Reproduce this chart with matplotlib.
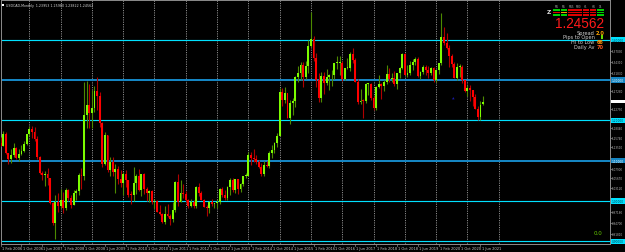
import matplotlib
matplotlib.use("Agg")
import matplotlib.pyplot as plt
from matplotlib.patches import Rectangle
from matplotlib.transforms import blended_transform_factory

W, H = 625, 253

# ---------------- data: USDCAD monthly, Feb 2006 .. Jul 2021 ----------------
opens = [
    # 2006 Feb-Dec
    1.1430, 1.1375, 1.1670, 1.1180, 1.1030, 1.1150, 1.1310, 1.1060, 1.1160, 1.1230, 1.1420,
    # 2007
    1.1650, 1.1780, 1.1700, 1.1540, 1.1080, 1.0700, 1.0650, 1.0670, 1.0560, 0.9950, 0.9450, 0.9990,
    # 2008
    0.9870, 1.0030, 0.9820, 1.0270, 1.0080, 0.9910, 1.0200, 1.0240, 1.0640, 1.0630, 1.2120, 1.2380,
    # 2009
    1.2170, 1.2300, 1.2720, 1.2600, 1.1930, 1.0920, 1.1630, 1.0770, 1.0960, 1.0710, 1.0800, 1.0550,
    # 2010
    1.0460, 1.0680, 1.0520, 1.0160, 1.0150, 1.0440, 1.0630, 1.0280, 1.0660, 1.0290, 1.0200, 1.0250,
    # 2011
    0.9990, 1.0010, 0.9720, 0.9690, 0.9480, 0.9690, 0.9640, 0.9550, 0.9790, 1.0480, 0.9970, 1.0200,
    # 2012
    1.0180, 1.0020, 0.9880, 0.9980, 0.9880, 1.0340, 1.0190, 1.0030, 0.9860, 0.9830, 0.9990, 0.9930,
    # 2013
    0.9950, 0.9980, 1.0300, 1.0160, 1.0080, 1.0360, 1.0520, 1.0270, 1.0540, 1.0300, 1.0430, 1.0620,
    # 2014
    1.0620, 1.1140, 1.1070, 1.1050, 1.0960, 1.0840, 1.0670, 1.0900, 1.0870, 1.1200, 1.1270, 1.1430,
    # 2015
    1.1620, 1.2700, 1.2500, 1.2680, 1.2060, 1.2440, 1.2490, 1.3080, 1.3170, 1.3380, 1.3080, 1.3350,
    # 2016
    1.3840, 1.4010, 1.3530, 1.2990, 1.2550, 1.3090, 1.2920, 1.3070, 1.3110, 1.3120, 1.3410, 1.3430,
    # 2017
    1.3430, 1.3010, 1.3290, 1.3300, 1.3650, 1.3500, 1.2960, 1.2460, 1.2490, 1.2480, 1.2890, 1.2900,
    # 2018
    1.2560, 1.2310, 1.2830, 1.2890, 1.2840, 1.2960, 1.3150, 1.3010, 1.3050, 1.2910, 1.3160, 1.3290,
    # 2019
    1.3640, 1.3130, 1.3160, 1.3360, 1.3450, 1.3510, 1.3100, 1.3190, 1.3310, 1.3240, 1.3170, 1.3290,
    # 2020
    1.2990, 1.3240, 1.3420, 1.4070, 1.3910, 1.3780, 1.3580, 1.3400, 1.3050, 1.3310, 1.3320, 1.2990,
    # 2021 Jan-Jul
    1.2730, 1.2790, 1.2740, 1.2570, 1.2290, 1.2070, 1.23953,
]
highs = [
    1.1580, 1.1730, 1.1720, 1.1200, 1.1300, 1.1450, 1.1330, 1.1290, 1.1400, 1.1480, 1.1660,
    1.1852, 1.1850, 1.1830, 1.1600, 1.1120, 1.0750, 1.0740, 1.0820, 1.0580, 0.9990, 1.0160, 1.0200,
    1.0290, 1.0220, 1.0330, 1.0290, 1.0150, 1.0270, 1.0300, 1.0690, 1.0830, 1.2940, 1.2985, 1.2900,
    1.2750, 1.2860, 1.3065, 1.2700, 1.1950, 1.1700, 1.1630, 1.1100, 1.1100, 1.0920, 1.0860, 1.0760,
    1.0730, 1.0780, 1.0530, 1.0250, 1.0850, 1.0670, 1.0790, 1.0680, 1.0690, 1.0340, 1.0270, 1.0280,
    1.0050, 1.0030, 0.9900, 0.9700, 0.9890, 0.9920, 0.9690, 0.9980, 1.0500, 1.0660, 1.0520, 1.0420,
    1.0260, 1.0050, 1.0040, 1.0030, 1.0370, 1.0450, 1.0250, 1.0040, 0.9900, 1.0000, 1.0050, 0.9960,
    1.0060, 1.0320, 1.0340, 1.0280, 1.0380, 1.0560, 1.0560, 1.0550, 1.0550, 1.0450, 1.0630, 1.0700,
    1.1220, 1.1220, 1.1280, 1.1130, 1.1010, 1.0940, 1.0990, 1.1000, 1.1250, 1.1390, 1.1470, 1.1680,
    1.2800, 1.2800, 1.2830, 1.2680, 1.2500, 1.2560, 1.3100, 1.3350, 1.3450, 1.3450, 1.3460, 1.3990,
    1.4690, 1.4090, 1.3660, 1.3160, 1.3190, 1.3190, 1.3260, 1.3140, 1.3250, 1.3410, 1.3590, 1.3600,
    1.3460, 1.3290, 1.3540, 1.3680, 1.3790, 1.3540, 1.3010, 1.2780, 1.2530, 1.2920, 1.2920, 1.2920,
    1.2590, 1.2850, 1.3130, 1.2920, 1.3000, 1.3380, 1.3290, 1.3160, 1.3210, 1.3170, 1.3320, 1.3660,
    1.3660, 1.3380, 1.3470, 1.3520, 1.3570, 1.3560, 1.3210, 1.3380, 1.3380, 1.3350, 1.3330, 1.3320,
    1.3250, 1.3430, 1.4667, 1.4300, 1.4160, 1.3870, 1.3650, 1.3450, 1.3420, 1.3390, 1.3370, 1.3000,
    1.2880, 1.2880, 1.2740, 1.2650, 1.2350, 1.2490, 1.25980,
]
lows = [
    1.1365, 1.1370, 1.1160, 1.0923, 1.0950, 1.1100, 1.1040, 1.0990, 1.1140, 1.1210, 1.1400,
    1.1620, 1.1560, 1.1500, 1.1050, 1.0660, 1.0530, 1.0380, 1.0410, 0.9940, 0.9400, 0.9058, 0.9740,
    0.9830, 0.9700, 0.9770, 1.0000, 0.9840, 0.9900, 1.0030, 1.0150, 1.0310, 1.0520, 1.1800, 1.1800,
    1.1820, 1.2200, 1.2250, 1.1840, 1.0850, 1.0890, 1.0720, 1.0630, 1.0630, 1.0206, 1.0430, 1.0360,
    1.0160, 1.0350, 1.0100, 0.9930, 1.0000, 1.0180, 1.0250, 1.0120, 1.0170, 1.0000, 0.9980, 0.9930,
    0.9840, 0.9720, 0.9650, 0.9450, 0.9440, 0.9600, 0.9410, 0.9480, 0.9720, 0.9880, 0.9970, 1.0080,
    0.9980, 0.9840, 0.9850, 0.9840, 0.9840, 1.0120, 1.0020, 0.9860, 0.9630, 0.9710, 0.9890, 0.9830,
    0.9840, 0.9930, 1.0100, 1.0030, 1.0020, 1.0140, 1.0230, 1.0200, 1.0180, 1.0220, 1.0380, 1.0560,
    1.0610, 1.0900, 1.0970, 1.0910, 1.0810, 1.0620, 1.0620, 1.0840, 1.0820, 1.1060, 1.1200, 1.1350,
    1.1620, 1.2350, 1.2420, 1.2050, 1.1920, 1.2130, 1.2330, 1.2950, 1.3000, 1.2830, 1.3020, 1.3170,
    1.3820, 1.3480, 1.2830, 1.2460, 1.2460, 1.2650, 1.2870, 1.2760, 1.2840, 1.3030, 1.3270, 1.3120,
    1.2970, 1.3000, 1.3260, 1.3230, 1.3410, 1.2950, 1.2410, 1.2410, 1.2060, 1.2430, 1.2630, 1.2500,
    1.2250, 1.2250, 1.2810, 1.2530, 1.2730, 1.2900, 1.2960, 1.2960, 1.2860, 1.2780, 1.3050, 1.3260,
    1.3120, 1.3070, 1.3130, 1.3250, 1.3380, 1.3070, 1.3020, 1.3140, 1.3130, 1.3040, 1.3110, 1.2960,
    1.2950, 1.3150, 1.3380, 1.3860, 1.3760, 1.3310, 1.3330, 1.3040, 1.3000, 1.3080, 1.2930, 1.2710,
    1.2590, 1.2470, 1.2360, 1.2270, 1.2010, 1.2010, 1.23822,
]
closes = [
    1.1375, 1.1670, 1.1180, 1.1030, 1.1150, 1.1310, 1.1060, 1.1160, 1.1230, 1.1420, 1.1650,
    1.1780, 1.1700, 1.1540, 1.1080, 1.0700, 1.0650, 1.0670, 1.0560, 0.9950, 0.9450, 0.9990, 0.9870,
    1.0030, 0.9820, 1.0270, 1.0080, 0.9910, 1.0200, 1.0240, 1.0640, 1.0630, 1.2120, 1.2380, 1.2170,
    1.2300, 1.2720, 1.2600, 1.1930, 1.0920, 1.1630, 1.0770, 1.0960, 1.0710, 1.0800, 1.0550, 1.0460,
    1.0680, 1.0520, 1.0160, 1.0150, 1.0440, 1.0630, 1.0280, 1.0660, 1.0290, 1.0200, 1.0250, 0.9990,
    1.0010, 0.9720, 0.9690, 0.9480, 0.9690, 0.9640, 0.9550, 0.9790, 1.0480, 0.9970, 1.0200, 1.0180,
    1.0020, 0.9880, 0.9980, 0.9880, 1.0340, 1.0190, 1.0030, 0.9860, 0.9830, 0.9990, 0.9930, 0.9950,
    0.9980, 1.0300, 1.0160, 1.0080, 1.0360, 1.0520, 1.0270, 1.0540, 1.0300, 1.0430, 1.0620, 1.0620,
    1.1140, 1.1070, 1.1050, 1.0960, 1.0840, 1.0670, 1.0900, 1.0870, 1.1200, 1.1270, 1.1430, 1.1620,
    1.2700, 1.2500, 1.2680, 1.2060, 1.2440, 1.2490, 1.3080, 1.3170, 1.3380, 1.3080, 1.3350, 1.3840,
    1.4010, 1.3530, 1.2990, 1.2550, 1.3090, 1.2920, 1.3070, 1.3110, 1.3120, 1.3410, 1.3430, 1.3430,
    1.3010, 1.3290, 1.3300, 1.3650, 1.3500, 1.2960, 1.2460, 1.2490, 1.2480, 1.2890, 1.2900, 1.2560,
    1.2310, 1.2830, 1.2890, 1.2840, 1.2960, 1.3150, 1.3010, 1.3050, 1.2910, 1.3160, 1.3290, 1.3640,
    1.3130, 1.3160, 1.3360, 1.3450, 1.3510, 1.3100, 1.3190, 1.3310, 1.3240, 1.3170, 1.3290, 1.2990,
    1.3240, 1.3420, 1.4070, 1.3910, 1.3780, 1.3580, 1.3400, 1.3050, 1.3310, 1.3320, 1.2990, 1.2730,
    1.2790, 1.2740, 1.2570, 1.2290, 1.2070, 1.2390, 1.24562,
]

date_labels = ["1 Feb 2006", "1 Oct 2006", "1 Jun 2007", "1 Feb 2008", "1 Oct 2008",
               "1 Jun 2009", "1 Feb 2010", "1 Oct 2010", "1 Jun 2011", "1 Feb 2012",
               "1 Oct 2012", "1 Jun 2013", "1 Feb 2014", "1 Oct 2014", "1 Jun 2015",
               "1 Feb 2016", "1 Oct 2016", "1 Jun 2017", "1 Feb 2018", "1 Oct 2018",
               "1 Jun 2019", "1 Feb 2020", "1 Oct 2020", "1 Jun 2021"]
date_label_bars = [0, 8, 16, 24, 32, 40, 48, 56, 64, 72, 80, 88, 96, 104, 112,
                   120, 128, 136, 144, 152, 160, 168, 176, 184]
january_bars = [11, 23, 35, 47, 59, 71, 83, 95, 107, 119, 131, 143, 155, 167, 179, 191]

levels = [1.40, 1.30, 1.20, 1.10, 1.00, 0.90]
level_colors = ["#00e1ff", "#1585c2", "#00e1ff", "#1585c2", "#00e1ff", "#00e1ff"]
level_widths_px = [1.15, 2.0, 1.15, 2.0, 1.15, 1.15]
scale_prices = [1.3703, 1.3431, 1.3183, 1.2728, 1.2275, 1.1804, 1.1574, 1.1351,
                1.0790, 1.0567, 1.0312, 0.9718, 0.9470, 0.9181]
last_price = 1.24562

header = "USDCAD,Monthly  1.23953 1.25980 1.23822 1.24562"
tf_labels = ["M1", "M5", "M15", "M30", "H1", "H4", "D1"]
tf_rows = [["#00d000", "#00d000", "#e00000", "#e00000", "#e00000", "#e00000", "#00d000"],
           ["#e00000", "#ff9900", "#e00000", "#e00000", "#e00000", "#e00000", "#00d000"],
           ["#00d000", "#00d000", "#e00000", "#e00000", "#e00000", "#e00000", "#00d000"]]
info_labels = ["Spread", "Pips to Open", "Hi to Low", "Daily Av"]
info_values = ["2.0", "", "66", "70"]
info_colors = ["#ffa500", "#66dd00", "#ff8c00", "#ff5a1e"]

BULL, BEAR = "#7cfc00", "#ff0000"
BULL_WICK, BEAR_WICK = "#4c8a00", "#b00000"

# ---------------- pixel geometry of the chart window ----------------
X0, XS = 0.6, 2.608            # pixel x of bar 0, pixels per bar
Y140, PPU = 40.5, 404.0        # pixel y of price 1.40, pixels per 1.0 price
L, R, T, B = 1, 610, 1, 244.5  # chart frame in pixels
PT = 0.72                      # points per pixel at dpi 100


def px_to_price(y):
    return 1.40 - (y - Y140) / PPU


fig = plt.figure(figsize=(W / 100, H / 100), dpi=100, facecolor="black")
ax = fig.add_axes([L / W, 1 - B / H, (R - L) / W, (B - T) / H], facecolor="black")
ax.set_xlim((L - X0) / XS, (R - X0) / XS)
ax.set_ylim(px_to_price(B), px_to_price(T))
for s in ax.spines.values():
    s.set_color("#8c8c8c")
    s.set_linewidth(0.7)
ax.set_xticks([])
ax.set_yticks([])

# yearly dotted grid
for jb in january_bars:
    ax.axvline(jb, color="#8a8a8a", lw=0.7, ls=(0, (1.2, 1.2)), zorder=1)

# horizontal level lines
for lv, col, lwp in zip(levels, level_colors, level_widths_px):
    ax.axhline(lv, color=col, lw=lwp * PT, zorder=2, snap=True)

# candles
idx = list(range(len(opens)))
for i in idx:
    o, h, l, c = opens[i], highs[i], lows[i], closes[i]
    up = c >= o
    ax.vlines(i, l, h, color=BULL_WICK if up else BEAR_WICK, lw=0.8, zorder=3)
bodies_bottom = [min(o, c) for o, c in zip(opens, closes)]
bodies_height = [max(abs(c - o), 0.0022) for o, c in zip(opens, closes)]
body_colors = [BULL if c >= o else BEAR for o, c in zip(opens, closes)]
ax.bar(idx, bodies_height, bottom=bodies_bottom, width=0.72, color=body_colors,
       linewidth=0, zorder=4)

# tiny arrow object on the chart
ax.text(173.4, px_to_price(98.3), "\u25b2", color="#1a1aa8", fontsize=2.4,
        ha="center", va="center", zorder=5)


# ---------------- price scale on the right ----------------
def fy(price):
    y = Y140 + (1.40 - price) * PPU
    return 1 - y / H


for lv, col in zip(levels, level_colors):
    yy = fy(lv)
    fig.patches.append(Rectangle((611 / W, yy - 2.6 / H), 16 / W, 5.2 / H,
                                 transform=fig.transFigure, facecolor=col,
                                 edgecolor="none", zorder=5))
    fig.text(611.6 / W, yy, f"{lv:.5f}",
             color="white" if col == "#1585c2" else "#003848",
             fontsize=2.1, va="center", ha="left", zorder=6)

for sp in scale_prices:
    yy = fy(sp)
    fig.lines.append(plt.Line2D([610 / W, 612 / W], [yy, yy], transform=fig.transFigure,
                                color="#8c8c8c", lw=0.5))
    fig.text(612.2 / W, yy, f"{sp:.5f}", color="#b4b4b4", fontsize=2.0,
             va="center", ha="left")

yy = fy(last_price)
fig.patches.append(Rectangle((611 / W, yy - 1.4 / H), 16 / W, 2.8 / H,
                             transform=fig.transFigure, facecolor="white",
                             edgecolor="none", zorder=5))

# date labels
trans = blended_transform_factory(ax.transData, fig.transFigure)
for b, lab in zip(date_label_bars, date_labels):
    ax.text(b + 0.4, 1 - 248.7 / H, lab, transform=trans, color="#c8c8c8",
            fontsize=2.6, va="center", ha="left", clip_on=False)
    ax.plot([b, b], [1 - 244.5 / H, 1 - 246.5 / H], transform=trans, color="#8c8c8c",
            lw=0.5, clip_on=False)

# ---------------- header (top-left) ----------------
fig.patches.append(Rectangle((2 / W, 1 - 7 / H), 2 / W, 2 / H, transform=fig.transFigure,
                             facecolor="white", edgecolor="none"))
fig.text(6.5 / W, 1 - 5.6 / H, header, color="#d8d8d8", fontsize=2.3, va="center", ha="left")

# ---------------- info panel (top-right) ----------------
col_x0, col_step, bar_w = 553.3, 7.3, 6.6
row_y = [10.2, 12.6, 15.0]
for j, lab in enumerate(tf_labels):
    fig.text((col_x0 + j * col_step + bar_w / 2) / W, 1 - 7.3 / H, lab, color="#aaaaaa",
             fontsize=1.9, ha="center", va="center")
for r, row in enumerate(tf_rows):
    for j, col in enumerate(row):
        fig.patches.append(Rectangle(((col_x0 + j * col_step) / W, 1 - (row_y[r] + 1.8) / H),
                                     bar_w / W, 1.8 / H, transform=fig.transFigure,
                                     facecolor=col, edgecolor="none"))
fig.text(549 / W, 1 - 12.5 / H, "Z", color="#dddddd", fontsize=4.2, ha="center", va="center",
         fontweight="bold")

fig.text(604 / W, 1 - 23.5 / H, f"{last_price:.5f}", color="#ff1a1a", fontsize=9.8,
         family="Liberation Sans", ha="right", va="center")

info_y = [33.3, 38.0, 42.7, 47.5]
for lab, val, col, y in zip(info_labels, info_values, info_colors, info_y):
    fig.text(594.5 / W, 1 - y / H, lab, color="#d0d0d0", fontsize=3.6, ha="right", va="center")
    if val:
        fig.text(600.5 / W, 1 - y / H, val, color=col, fontsize=3.6, ha="center", va="center",
                 fontweight="bold")
    else:
        fig.patches.append(Rectangle((601 / W, 1 - (y + 1.7) / H), 1.8 / W, 3.4 / H,
                                     transform=fig.transFigure, facecolor=col,
                                     edgecolor="none"))

fig.text(598.5 / W, 1 - 233.5 / H, "0.0", color="#66cc00", fontsize=4.0, ha="center",
         va="center")

fig.savefig("out.png", dpi=100, facecolor="black")
